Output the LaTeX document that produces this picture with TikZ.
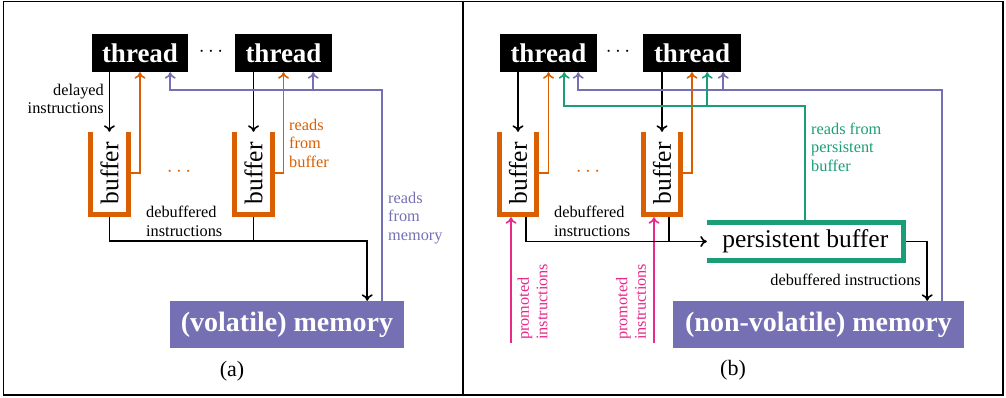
\documentclass[tikz,border=0pt]{standalone}
\usepackage{fontspec}
\setmainfont{Liberation Serif}
\usetikzlibrary{arrows.meta,calc}
\definecolor{orng}{HTML}{D95F02}
\definecolor{purp}{HTML}{7570B3}
\definecolor{grn}{HTML}{1B9E77}
\definecolor{pnk}{HTML}{E7298A}
\tikzset{
  thr/.style={fill=black,text=white,font=\fontsize{27}{30}\selectfont\bfseries,minimum height=38pt,inner sep=0pt},
  mem/.style={fill=purp,text=white,font=\fontsize{28}{32}\selectfont\bfseries,minimum height=47pt,inner sep=0pt},
  lbl/.style={font=\fontsize{16.3}{18.5}\selectfont,inner sep=0pt},
  bufbox/.style={minimum width=37pt,minimum height=82.5pt,inner sep=0pt},
  buftxt/.style={font=\fontsize{25.5}{28}\selectfont,inner sep=0pt,rotate=90},
  bufline/.style={draw=orng,line width=5pt},
  conn/.style={line width=1.6pt},
  dotsn/.style={font=\fontsize{20}{22}\selectfont,inner sep=0pt},
}
\begin{document}
\begin{tikzpicture}[x=1pt,y=-1pt,>={To[length=6.5pt,width=11pt]}]
\useasboundingbox (0,0) rectangle (1006,397);
\draw[line width=1.2pt] (3.5,1.5) rectangle (1003,395);
\draw[line width=1.2pt] (463,1.5) -- (463,395);

% ---------------- panel (a)
\node[thr,minimum width=96pt] (t1) at (140,53) {thread};
\node[thr,minimum width=97pt] (t2) at (283.5,53) {thread};
\node[dotsn] (d1) at (211,52) {$\cdots$};
\node[bufbox] (b1) at (109.4,173.25) {};
\node[bufbox] (b2) at (253.5,173.25) {};
\node[dotsn,text=orng] (d2) at (179,172) {$\cdots$};
\node[mem,minimum width=234pt] (m1) at (287,324.5) {(volatile) memory};

\draw[conn,->] (t1.south -| b1.north) -- (b1.north);
\draw[conn,->] (t2.south -| b2.north) -- (b2.north);
\draw[conn,orng,->] ($(b1.east)+(2.5,0)$) -| (t1.south);
\draw[conn,orng,->] ($(b2.east)+(2.5,0)$) -| (t2.south);
\draw[conn,purp,->] ($(m1.north east)+(-22,0)$) |- ($(t1.south east)+(-18,18)$) -- ($(t1.south east)+(-18,0)$);
\draw[conn,purp,->] ($(t2.south east)+(-19,18)$) -- ($(t2.south east)+(-19,0)$);
\draw[conn,->] (b1.south) |- ($(m1.north east)+(-37,-60)$) -- ($(m1.north east)+(-37,0)$);
\draw[conn] (b2.south) -- ($(b2.south)+(0,26.5)$);

\draw[bufline] (b1.north west) -- (b1.south west) -- (b1.south east) -- (b1.north east);
\draw[bufline] (b2.north west) -- (b2.south west) -- (b2.south east) -- (b2.north east);
\node[buftxt] (bt1) at (b1) {buffer};
\node[buftxt] (bt2) at (b2) {buffer};

\node[lbl,anchor=east,align=right] (l1) at (104,99) {delayed\\instructions};
\node[lbl,anchor=west,align=left,text=orng] (l2) at (289,143) {reads\\from\\buffer};
\node[lbl,anchor=west,align=left] (l3) at (146,221.5) {debuffered\\instructions};
\node[lbl,anchor=west,align=left,text=purp] (l4) at (388,218) {reads\\from\\memory};
\node[font=\fontsize{22}{24}\selectfont,inner sep=0pt] (ca) at (232,371) {(a)};

% ---------------- panel (b)
\node[thr,minimum width=97pt] (t3) at (548.5,53) {thread};
\node[thr,minimum width=98pt] (t4) at (692,53) {thread};
\node[dotsn] (d3) at (618,52) {$\cdots$};
\node[bufbox] (b3) at (518,173.25) {};
\node[bufbox] (b4) at (662,173.25) {};
\node[dotsn,text=orng] (d4) at (588,172) {$\cdots$};
\node[mem,minimum width=291pt] (m2) at (818.5,324.5) {(non-volatile) memory};
\node[minimum width=196.5pt,minimum height=38pt,inner sep=0pt,font=\fontsize{25.5}{28}\selectfont] (pb) at (805.25,241.5) {persistent buffer};

\draw[conn,->] (t3.south -| b3.north) -- (b3.north);
\draw[conn,->] (t4.south -| b4.north) -- (b4.north);
\draw[conn,orng,->] ($(b3.east)+(2.5,0)$) -| (t3.south);
\draw[conn,orng,->] ($(b4.east)+(2.5,0)$) -| (t4.south);
\draw[conn,purp,->] ($(m2.north east)+(-22,0)$) |- ($(t3.south east)+(-19,18)$) -- ($(t3.south east)+(-19,0)$);
\draw[conn,purp,->] ($(t4.south east)+(-18,18)$) -- ($(t4.south east)+(-18,0)$);
\draw[conn,grn,->] (pb.north) |- ($(t3.south east)+(-33,34)$) -- ($(t3.south east)+(-33,0)$);
\draw[conn,grn,->] ($(t4.south east)+(-34,34)$) -- ($(t4.south east)+(-34,0)$);
\coordinate (p1) at (511,343);
\coordinate (p2) at (654,343);
\draw[conn,pnk,->] (p1) -- ($(b3.south)+(-7,2.5)$);
\draw[conn,pnk,->] (p2) -- ($(b4.south)+(-8,2.5)$);
\draw[conn,->] ($(b3.south)+(8,0)$) |- (pb.west);
\draw[conn] ($(b4.south)+(7,0)$) -- ($(b4.south)+(7,27)$);
\draw[conn,->] ($(pb.east)+(2.5,0)$) -| ($(m2.north east)+(-37,0)$);

\draw[bufline] (b3.north west) -- (b3.south west) -- (b3.south east) -- (b3.north east);
\draw[bufline] (b4.north west) -- (b4.south west) -- (b4.south east) -- (b4.north east);
\draw[draw=grn,line width=5pt] (pb.north west) -- (pb.north east) -- (pb.south east) -- (pb.south west);
\node[buftxt] (bt3) at (b3) {buffer};
\node[buftxt] (bt4) at (b4) {buffer};

\node[lbl,anchor=west,align=left] (l5) at (554,221.5) {debuffered\\instructions};
\node[lbl,anchor=west,align=left,text=grn] (l6) at (811,147) {reads from\\persistent\\buffer};
\node[lbl,anchor=east] (l7) at (921,280) {debuffered instructions};
\node[lbl,anchor=west,align=left,text=pnk,rotate=90] (l8) at (532.5,340) {promoted\\instructions};
\node[lbl,anchor=west,align=left,text=pnk,rotate=90] (l9) at (631,340) {promoted\\instructions};
\node[font=\fontsize{22}{24}\selectfont,inner sep=0pt] (cb) at (733,370) {(b)};
\end{tikzpicture}
\end{document}
